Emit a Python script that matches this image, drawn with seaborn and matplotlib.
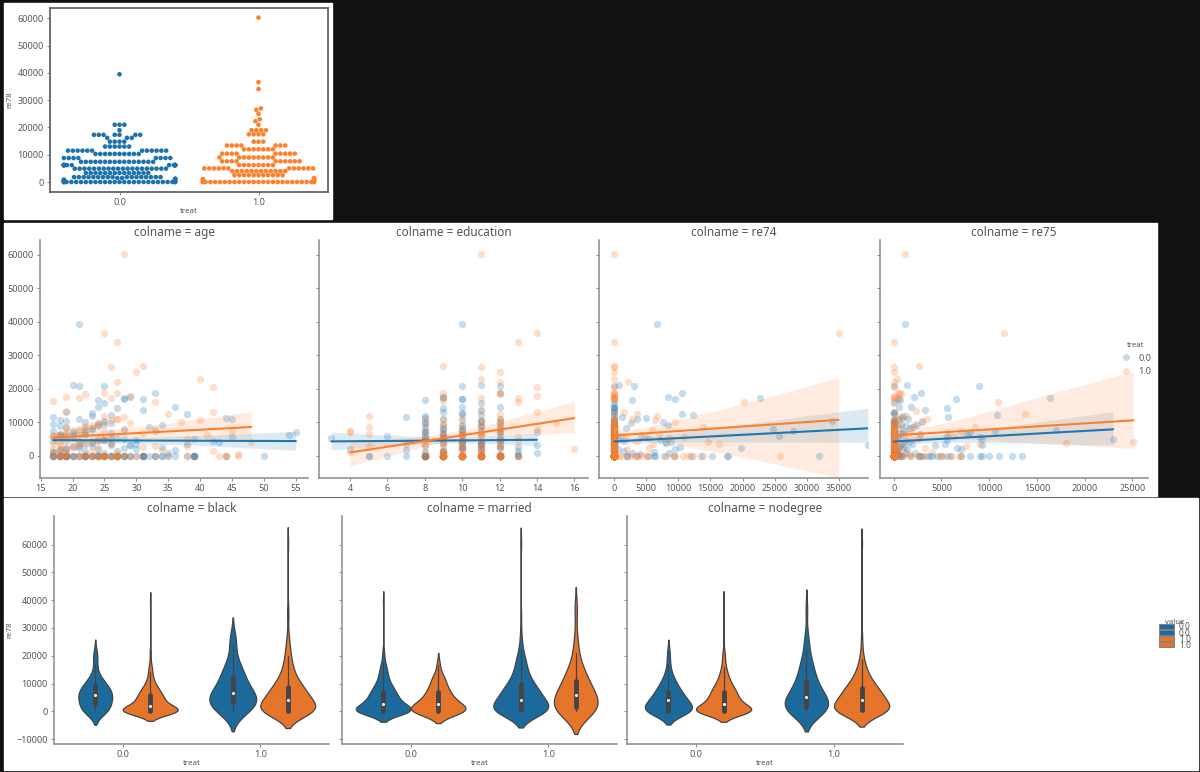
import matplotlib
matplotlib.use("Agg")
import matplotlib.pyplot as plt
from matplotlib.lines import Line2D
from matplotlib.patches import Patch, Rectangle
import numpy as np
import pandas as pd
import seaborn as sns

W, H = 1200, 772

# swarm: re78 levels and how many dots sit on each
swarm_levels_0 = [39500, 21000, 19000, 17300, 16200, 14800, 13000, 11500, 10300, 8800, 7400, 6200, 4900,
                  3300, 1800, 1500, 1200, 900, 600, 300, 0]
swarm_counts_0 = [1, 3, 1, 7, 3, 4, 6, 12, 10, 8, 16, 18, 20, 14, 17, 2, 2, 2, 2, 2, 28]
swarm_levels_1 = [60300, 36600, 34100, 27000, 26500, 25000, 23000, 22300, 21000, 19000, 17500, 14800,
                  13400, 12000, 10400, 9000, 7600, 6200, 5000, 4000, 2500, 1400, 1000, 600, 200, 0]
swarm_counts_1 = [1, 1, 1, 1, 1, 1, 1, 1, 1, 4, 4, 3, 7, 7, 9, 9, 10, 8, 12, 12, 11, 2, 2, 2, 2, 26]

# regression panels, one row per person
re78_t = [60300, 36600, 34100, 26700, 26500, 24900, 23000, 22000, 20500, 18800,
          18700, 18500, 17800, 17500, 17200, 17100, 16200, 16000, 13500, 13200,
          12500, 12000, 11000, 10600, 10000, 9800, 9000, 8700, 8000, 7700,
          7400, 7000, 6800, 6500, 6200, 5900, 5500, 5200, 4900, 4500,
          4200, 3800, 3400, 3000, 2600, 2200, 1800, 1200, 700, 400,
          6000, 5000, 4000, 3000, 2000, 1000, 500, 2500, 3500, 1500,
          0, 0, 0, 0, 0, 0, 0, 0, 0, 0,
          0, 0, 0, 0, 0, 0, 0, 0, 0, 0,
          0, 0, 0, 0, 0, 0, 0, 0, 0, 0,
          0, 0, 0, 0, 0, 0, 0, 0, 0, 0,
          0, 0, 0, 0, 0,
          1100, 1900, 2300, 2900, 3300, 3700, 4100, 4600, 5100, 5600,
          6100, 6600, 7100, 7600, 8100, 8600, 9100, 9600, 10100, 10600,
          11100, 11600, 2100, 3100, 4300, 5300, 6300, 7300, 8300, 9300]
age_t = [28, 25, 27, 31, 26, 30, 40, 27, 42, 25,
         27, 22, 29, 19, 26, 21, 17, 33, 19, 42,
         35, 25, 27, 40, 37, 29, 22, 19, 33, 28,
         45, 25, 31, 22, 41, 19, 18, 25, 38, 23,
         48, 18, 26, 33, 20, 24, 34, 19, 27, 46,
         17, 24, 21, 38, 18, 23, 22, 31, 17, 42,
         44, 18, 19, 20, 21, 22, 23, 24, 25, 26,
         27, 27, 25, 25, 18, 19, 22, 17, 28, 29,
         38, 18, 19, 23, 24, 25, 26, 27, 28, 30,
         31, 33, 35, 39, 43, 46, 17, 19, 25, 27,
         44, 21, 18, 24, 22,
         17, 18, 19, 20, 21, 22, 23, 24, 25, 26,
         17, 18, 19, 20, 21, 22, 23, 24, 25, 26,
         27, 28, 17, 18, 19, 20, 21, 22, 23, 24]
edu_t = [11, 14, 13, 9, 11, 12, 11, 12, 14, 12,
         9, 12, 14, 9, 13, 11, 9, 13, 11, 14,
         12, 5, 12, 11, 12, 15, 11, 5, 14, 12,
         4, 4, 10, 5, 9, 11, 13, 12, 9, 13,
         10, 11, 8, 12, 9, 10, 11, 4, 9, 12,
         10, 8, 9, 5, 16, 8, 11, 10, 11, 9,
         10, 9, 10, 11, 12, 9, 10, 11, 12, 10,
         10, 11, 12, 9, 13, 10, 10, 9, 11, 12,
         9, 10, 11, 10, 12, 9, 10, 11, 10, 13,
         8, 10, 9, 9, 10, 9, 11, 8, 10, 12,
         9, 10, 11, 12, 8,
         9, 10, 11, 12, 8, 9, 10, 11, 12, 8,
         9, 10, 11, 12, 8, 9, 10, 11, 12, 8,
         9, 10, 11, 12, 10, 9, 11, 10, 12, 9]
re74_t = [0, 35000, 0, 0, 0, 0, 0, 2200, 0, 0,
          0, 0, 0, 0, 0, 0, 0, 20200, 0, 1500,
          3600, 6700, 2800, 6400, 9500, 0, 0, 13800, 0, 5800,
          0, 0, 0, 7000, 0, 1800, 10800, 8500, 0, 3500,
          0, 0, 16300, 0, 0, 5400, 0, 0, 0, 0,
          4600, 0, 14600, 0, 2000, 0, 0, 0, 6000, 0,
          8000, 5000, 0, 0, 0, 0, 900, 0, 0, 0,
          0, 25900, 0, 0, 0, 0, 1800, 3200, 0, 9300,
          0, 0, 0, 0, 0, 0, 4100, 0, 10700, 12200,
          0, 0, 0, 2600, 0, 0, 5300, 700, 0, 13800,
          0, 9500, 3600, 0, 11500,
          0, 0, 0, 0, 0, 0, 0, 0, 0, 0,
          0, 0, 0, 0, 0, 0, 0, 0, 0, 0,
          0, 0, 0, 0, 0, 0, 0, 0, 0, 0]
re75_t = [1200, 11600, 0, 2700, 0, 0, 300, 0, 0, 700,
          500, 800, 0, 0, 0, 600, 0, 10900, 2300, 0,
          13800, 1300, 3500, 600, 3000, 0, 800, 8500, 0, 0,
          7000, 5700, 0, 0, 2800, 0, 6300, 0, 2100, 0,
          25100, 18000, 0, 0, 0, 3300, 0, 500, 0, 1600,
          0, 2600, 0, 7600, 0, 4000, 0, 0, 9000, 1100,
          0, 0, 0, 0, 0, 0, 800, 0, 0, 0,
          0, 0, 0, 2500, 0, 0, 500, 0, 3200, 0,
          0, 0, 0, 0, 6800, 0, 1800, 0, 0, 0,
          0, 0, 5900, 0, 0, 0, 0, 2700, 1000, 0,
          7000, 0, 4800, 0, 5200,
          0, 300, 0, 600, 0, 900, 0, 0, 1200, 0,
          0, 1500, 0, 0, 1800, 0, 0, 2200, 0, 0,
          0, 700, 0, 0, 0, 0, 0, 0, 0, 0]

re78_c = [39500, 21000, 20900, 20800, 18800, 17400, 17200, 17000, 16800, 16500,
          15800, 14700, 14500, 14300, 13800, 13000, 12500, 12300, 11800, 11500,
          11200, 10900, 10600, 10300, 10000, 9700, 9400, 9100, 8800, 8500,
          8200, 7900, 7600, 7300, 7000, 6700, 6400, 6100, 5800, 5500,
          5200, 4900, 4600, 4300, 4000, 3700, 3400, 3100, 2800, 2500,
          2200, 1900, 1600, 1300, 1000, 700, 500, 300, 4500, 3600,
          6000, 5000, 4200, 3200, 2400, 1500, 800, 7200, 6800, 2000,
          0, 0, 0, 0, 0, 0, 0, 0, 0, 0,
          0, 0, 0, 0, 0, 0, 0, 0, 0, 0,
          0, 0, 0, 0, 0, 0, 0, 0, 0, 0,
          0, 0, 0, 0, 0, 0, 0, 0, 0, 0,
          0, 0, 0, 0, 0, 0, 0, 0, 0, 0,
          0, 0, 0, 0, 0, 0, 0, 0, 0, 0,
          1200, 1700, 2100, 2600, 3000, 3500, 3900, 4400, 4800, 5300,
          5700, 6200, 6600, 7100, 7500, 8000, 8400, 8900, 9300, 9800,
          1400, 2300, 3300, 4700, 5600, 6500, 7400, 10400, 11000, 12800,
          0, 0, 0, 0, 0, 0, 0, 0, 0, 0]
age_c = [21, 20, 21, 25, 33, 29, 28, 28, 31, 24,
         25, 36, 24, 27, 31, 19, 38, 26, 23, 17,
         44, 45, 18, 25, 22, 24, 17, 34, 18, 32,
         19, 28, 23, 33, 55, 20, 22, 54, 18, 45,
         27, 39, 25, 17, 21, 26, 38, 29, 23, 34,
         19, 30, 36, 22, 17, 25, 19, 24, 42, 30,
         20, 28, 43, 26, 21, 18, 35, 22, 26, 24,
         17, 18, 19, 20, 21, 22, 23, 24, 25, 26,
         27, 28, 29, 30, 31, 31, 33, 34, 35, 36,
         38, 39, 39, 44, 50, 17, 18, 19, 19, 22,
         18, 19, 20, 22, 24, 25, 26, 27, 28, 31,
         17, 18, 19, 23, 24, 27, 29, 32, 34, 39,
         18, 19, 21, 22, 25, 26, 28, 31, 31, 39,
         17, 18, 19, 20, 21, 22, 23, 24, 25, 26,
         17, 18, 19, 20, 21, 22, 23, 24, 25, 26,
         27, 28, 29, 30, 19, 18, 17, 19, 21, 23,
         17, 18, 19, 20, 22, 23, 25, 27, 33, 39]
edu_c = [10, 11, 10, 12, 12, 9, 9, 10, 10, 8,
         11, 10, 12, 9, 11, 9, 10, 11, 8, 7,
         8, 9, 10, 11, 12, 8, 9, 10, 11, 8,
         12, 9, 10, 11, 14, 12, 8, 10, 9, 12,
         3, 8, 10, 9, 12, 11, 7, 14, 10, 13,
         10, 11, 7, 9, 8, 11, 13, 12, 10, 11,
         6, 9, 10, 11, 12, 13, 14, 8, 9, 4,
         5, 5, 6, 7, 8, 8, 9, 9, 10, 10,
         10, 11, 11, 12, 12, 13, 8, 9, 10, 11,
         9, 10, 11, 12, 10, 9, 11, 12, 8, 10,
         8, 9, 10, 11, 12, 13, 9, 10, 11, 12,
         8, 10, 11, 9, 12, 10, 11, 8, 9, 10,
         9, 10, 11, 12, 10, 11, 8, 9, 10, 12,
         9, 10, 11, 12, 8, 9, 10, 11, 12, 8,
         9, 10, 11, 12, 8, 9, 10, 11, 12, 8,
         9, 10, 11, 12, 8, 9, 10, 11, 12, 10,
         8, 9, 10, 11, 12, 8, 9, 10, 11, 12]
re74_c = [6700, 800, 3000, 0, 10500, 8300, 22800, 9500, 0, 2700,
          0, 0, 0, 0, 0, 0, 10600, 12200, 0, 1200,
          5000, 3500, 0, 33900, 7600, 2600, 0, 8300, 0, 0,
          1800, 24700, 0, 27900, 0, 0, 0, 4200, 25700, 0,
          5200, 0, 7100, 0, 8800, 8000, 0, 39570, 0, 10200,
          19800, 9400, 0, 0, 6200, 8500, 4000, 0, 1500, 0,
          1000, 500, 7900, 0, 0, 1500, 2800, 0, 0, 600,
          0, 13500, 0, 15300, 17500, 0, 0, 31900, 0, 0,
          17700, 0, 6200, 0, 0, 0, 0, 0, 9300, 0,
          0, 0, 0, 0, 0, 0, 0, 2000, 0, 0,
          0, 0, 0, 7800, 0, 0, 0, 0, 3600, 0,
          0, 5200, 0, 0, 0, 0, 12000, 0, 0, 0,
          0, 0, 2000, 0, 0, 6300, 0, 0, 0, 0,
          0, 0, 0, 0, 0, 0, 0, 0, 0, 0,
          0, 0, 0, 0, 0, 0, 0, 0, 0, 0,
          0, 0, 0, 0, 0, 0, 0, 0, 0, 0,
          0, 0, 0, 0, 0, 0, 0, 0, 0, 0]
re75_c = [1200, 1400, 0, 8900, 2900, 2100, 16400, 6500, 500, 700,
          0, 1800, 600, 5600, 3300, 0, 0, 10800, 1000, 5700,
          900, 1500, 0, 3000, 0, 0, 800, 0, 1300, 2000,
          600, 0, 17000, 10600, 0, 1000, 7700, 0, 500, 9000,
          0, 23000, 5600, 0, 1600, 0, 5400, 9300, 700, 1100,
          6600, 7000, 300, 0, 0, 2200, 400, 600, 0, 1900,
          5600, 9300, 0, 4300, 0, 0, 1200, 8000, 0, 1400,
          0, 0, 0, 13400, 12400, 0, 0, 600, 800, 0,
          10000, 0, 5600, 0, 0, 3000, 0, 3500, 9300, 0,
          0, 0, 1700, 4500, 0, 2600, 0, 0, 0, 0,
          5000, 9000, 0, 7000, 900, 6000, 0, 4000, 0, 0,
          8000, 11000, 2800, 0, 0, 0, 0, 0, 0, 0,
          0, 0, 0, 0, 0, 0, 3800, 0, 0, 0,
          0, 300, 0, 600, 0, 900, 0, 1200, 0, 0,
          500, 0, 800, 0, 1100, 0, 1700, 0, 2400, 0,
          0, 0, 0, 0, 0, 2800, 0, 0, 400, 0,
          0, 0, 0, 0, 0, 0, 0, 0, 0, 0]

# violins: re78 levels and counts, named colname_treat_value
black_00_y = [0, 1500, 3000, 4500, 6000, 7500, 9000, 10500, 12000, 14000, 17000, 19500, 21000]
black_00_n = [8, 3, 5, 5, 6, 5, 4, 3, 2, 1, 1, 1, 1]
black_01_y = [0, 1000, 2000, 3000, 4000, 5000, 6000, 7000, 8000, 9000, 10000, 12000, 14000, 16000, 17000, 21000, 39500]
black_01_n = [78, 20, 15, 14, 14, 14, 12, 10, 8, 7, 6, 6, 4, 3, 1, 2, 1]
black_10_y = [0, 2000, 3500, 5000, 6500, 8500, 10500, 12500, 14500, 17000, 18500, 24000, 26600]
black_10_n = [4, 3, 3, 4, 3, 2, 2, 2, 2, 1, 1, 1, 1]
black_11_y = [0, 1000, 2500, 4000, 5500, 7000, 8500, 10000, 12000, 14000, 16000, 18000, 20000, 23000, 26500, 34000, 36600, 60300]
black_11_n = [40, 14, 14, 14, 13, 12, 10, 9, 7, 5, 4, 3, 3, 3, 2, 1, 1, 1]
married_00_y = [0, 1000, 2500, 4000, 5500, 7000, 8500, 10000, 12000, 14000, 16000, 17500, 21000, 39500]
married_00_n = [65, 26, 22, 22, 18, 16, 13, 10, 9, 7, 5, 3, 3, 1]
married_01_y = [0, 1000, 2500, 4000, 5500, 7000, 8500, 10000, 12000, 13000, 16800]
married_01_n = [12, 5, 5, 4, 3, 3, 2, 2, 2, 1, 1]
married_10_y = [0, 1000, 2500, 4000, 5500, 7000, 8500, 10000, 12000, 14000, 16000, 18000, 20000, 22000, 26500, 34000, 60300]
married_10_n = [37, 13, 14, 13, 13, 11, 10, 9, 7, 5, 5, 4, 3, 2, 2, 1, 1]
married_11_y = [0, 1500, 3000, 4500, 6000, 7500, 9000, 11000, 13000, 15000, 18000, 21000, 26000, 36600]
married_11_n = [8, 3, 3, 3, 3, 2, 3, 2, 2, 2, 1, 1, 1, 1]
nodegree_00_y = [0, 1000, 2500, 4000, 5500, 7000, 8500, 10000, 12000, 14000, 17000, 21000]
nodegree_00_n = [12, 4, 5, 5, 4, 3, 3, 2, 2, 1, 1, 1]
nodegree_01_y = [0, 1000, 2500, 4000, 5500, 7000, 8500, 10000, 12000, 14000, 16000, 18500, 21000, 39500]
nodegree_01_n = [68, 23, 22, 20, 18, 16, 13, 11, 9, 6, 4, 3, 3, 1]
nodegree_10_y = [0, 1500, 3000, 4500, 6000, 7500, 9000, 11000, 13000, 15000, 17000, 19000, 22000, 26000, 36600]
nodegree_10_n = [12, 5, 5, 5, 5, 3, 3, 3, 3, 2, 2, 2, 1, 2, 1]
nodegree_11_y = [0, 1000, 2500, 4000, 5500, 7000, 8500, 10000, 12000, 14000, 16000, 19000, 23000, 27000, 60300]
nodegree_11_n = [33, 12, 13, 13, 12, 11, 9, 8, 6, 5, 3, 3, 1, 1, 1]

treat_labels = ["0.0", "1.0"]
y_ticks = [0, 10000, 20000, 30000, 40000, 50000, 60000]
blue, orange = "#1f77b4", "#ff7f2a"
vblue, vorange = "#1c6a9c", "#e6752c"
grey = "#555555"
spine = "#8a8a8a"

sns.set_theme(style = "white")
plt.rcParams["font.family"] = ["Noto Sans", "DejaVu Sans"]
plt.rcParams["text.color"] = grey
plt.rcParams["axes.labelcolor"] = grey
plt.rcParams["xtick.color"] = grey
plt.rcParams["ytick.color"] = grey

fig = plt.figure(figsize = (W / 100, H / 100), dpi = 100, facecolor = "#111111")

def px_axes(left, top, right, bottom):
    return fig.add_axes([left / W, 1 - bottom / H, (right - left) / W, (bottom - top) / H])

def panel(left, top, right, bottom):
    fig.add_artist(Rectangle((left / W, 1 - bottom / H), (right - left) / W, (bottom - top) / H,
                             transform = fig.transFigure, color = "white", zorder = -1))

def style(ax, size = 6.5):
    ax.set_facecolor("white")
    ax.tick_params(left = True, bottom = True, length = 2.5, width = 0.7, labelsize = size, pad = 2, color = spine)
    for s in ax.spines.values():
        s.set_color(spine)
        s.set_linewidth(1.1)

panel(4, 3, 332, 219)
panel(4, 223, 1157, 496)
panel(4, 498, 1198, 770)

# top swarm
swarm = pd.DataFrame({
    "treat": ["0.0"] * sum(swarm_counts_0) + ["1.0"] * sum(swarm_counts_1),
    "re78": np.concatenate([np.repeat(swarm_levels_0, swarm_counts_0), np.repeat(swarm_levels_1, swarm_counts_1)]),
})
ax = px_axes(50, 8, 328, 192)
sns.swarmplot(data = swarm, x = "treat", y = "re78", hue = "treat", order = treat_labels, hue_order = treat_labels,
              palette = ["#1b72ad", orange], size = 3.3, linewidth = 0, legend = False, ax = ax, warn_thresh = 1)
ax.set_xlim(-0.5, 1.5)
ax.set_ylim(-3660, 63800)
ax.set_yticks(y_ticks)
ax.set_xlabel("treat", fontsize = 5.7, labelpad = 0.5)
ax.set_ylabel("re78", fontsize = 5.7)
ax.yaxis.set_label_coords(-0.133, 0.5)
style(ax)
for s in ax.spines.values():
    s.set_color("#666666")
    s.set_linewidth(1.3)

# regression row
reg_cols = [("age", age_c, age_t, (14.9, 56.9)),
            ("education", edu_c, edu_t, (2.34, 16.73)),
            ("re74", re74_c, re74_t, (-2390, 39570)),
            ("re75", re75_c, re75_t, (-1435, 26640))]
reg_boxes = [(40, 308), (319, 588), (599, 868), (880, 1148)]
reg_ticks = [range(15, 60, 5), range(4, 18, 2), range(0, 40000, 5000), range(0, 30000, 5000)]

for (name, x_c, x_t, xlim), (left, right), ticks in zip(reg_cols, reg_boxes, reg_ticks):
    ax = px_axes(left, 240, right, 478)
    for x, y, color in [(x_c, re78_c, blue), (x_t, re78_t, orange)]:
        sns.regplot(x = np.array(x, dtype = float), y = np.array(y, dtype = float), color = color, seed = 3, ax = ax,
                    scatter_kws = {"alpha": 0.25, "s": 28, "linewidths": 0},
                    line_kws = {"linewidth": 1.5})
    ax.set_xlim(*xlim)
    ax.set_ylim(-6670, 64480)
    ax.set_xticks(list(ticks))
    ax.set_yticks(y_ticks)
    ax.set_xlabel("")
    ax.set_ylabel("")
    ax.set_title("colname = " + name, fontsize = 8.5, color = grey, pad = 3)
    ax.patch.set_alpha(0)
    style(ax)
    ax.tick_params(labelleft = left == 40)
    sns.despine(ax = ax)

handles = [Line2D([], [], marker = "o", linestyle = "", color = c, alpha = 0.25, markersize = 5, markeredgewidth = 0)
           for c in (blue, orange)]
fig.legend(handles, treat_labels, title = "treat", loc = "center", bbox_to_anchor = (1136 / W, 1 - 359 / H),
           frameon = False, fontsize = 6.5, title_fontsize = 5.5, labelspacing = 0.5, handletextpad = 0.7,
           borderpad = 0, handlelength = 1.2)

# violin row
def violin_table(y_00, n_00, y_01, n_01, y_10, n_10, y_11, n_11):
    rows = []
    for treat, value, levels, counts in [("0.0", "0.0", y_00, n_00), ("0.0", "1.0", y_01, n_01),
                                         ("1.0", "0.0", y_10, n_10), ("1.0", "1.0", y_11, n_11)]:
        rows.append(pd.DataFrame({"treat": treat, "value": value, "re78": np.repeat(levels, counts).astype(float)}))
    return pd.concat(rows, ignore_index = True)

violin_data = [
    ("black", violin_table(black_00_y, black_00_n, black_01_y, black_01_n,
                           black_10_y, black_10_n, black_11_y, black_11_n)),
    ("married", violin_table(married_00_y, married_00_n, married_01_y, married_01_n,
                             married_10_y, married_10_n, married_11_y, married_11_n)),
    ("nodegree", violin_table(nodegree_00_y, nodegree_00_n, nodegree_01_y, nodegree_01_n,
                              nodegree_10_y, nodegree_10_n, nodegree_11_y, nodegree_11_n)),
]
violin_boxes = [(54, 329), (342, 617), (627, 903)]

for (name, table), (left, right) in zip(violin_data, violin_boxes):
    ax = px_axes(left, 516, right, 744)
    # one call per treat so the area scale is shared inside each treat only
    for treat in treat_labels:
        sns.violinplot(data = table[table["treat"] == treat], x = "treat", y = "re78", hue = "value",
                       order = treat_labels, hue_order = treat_labels, palette = [vblue, vorange], saturation = 1,
                       linewidth = 0.9, linecolor = "#444444", density_norm = "area", common_norm = True,
                       inner_kws = {"box_width": 3.5, "whis_width": 0.9, "marker": "."}, legend = False, ax = ax)
    ax.set_xlim(-0.5, 1.5)
    ax.set_ylim(-11760, 70300)
    ax.set_yticks([-10000] + y_ticks)
    ax.set_xlabel("treat", fontsize = 5.7, labelpad = 0.5)
    ax.set_ylabel("re78" if left == 54 else "", fontsize = 5.7)
    ax.yaxis.set_label_coords(-0.149, 0.5)
    ax.set_title("colname = " + name, fontsize = 8.5, color = grey, pad = 3)
    style(ax)
    ax.tick_params(labelleft = left == 54)
    sns.despine(ax = ax)

patches = [Patch(facecolor = c, edgecolor = "#777777", linewidth = 0.6) for c in (vblue, vblue, vorange, vorange)]
leg = fig.legend(patches, ["0.0", "0.0", "1.0", "1.0"], title = "value", loc = "center",
                 bbox_to_anchor = (1175 / W, 1 - 634 / H), frameon = False, fontsize = 6, title_fontsize = 5.5,
                 labelspacing = -0.35, handleheight = 0.62, handlelength = 1.8, handletextpad = 0.6, borderpad = 0)
leg.get_title().set_position((0, -1))

fig.savefig("out.png", dpi = 100, facecolor = fig.get_facecolor())
